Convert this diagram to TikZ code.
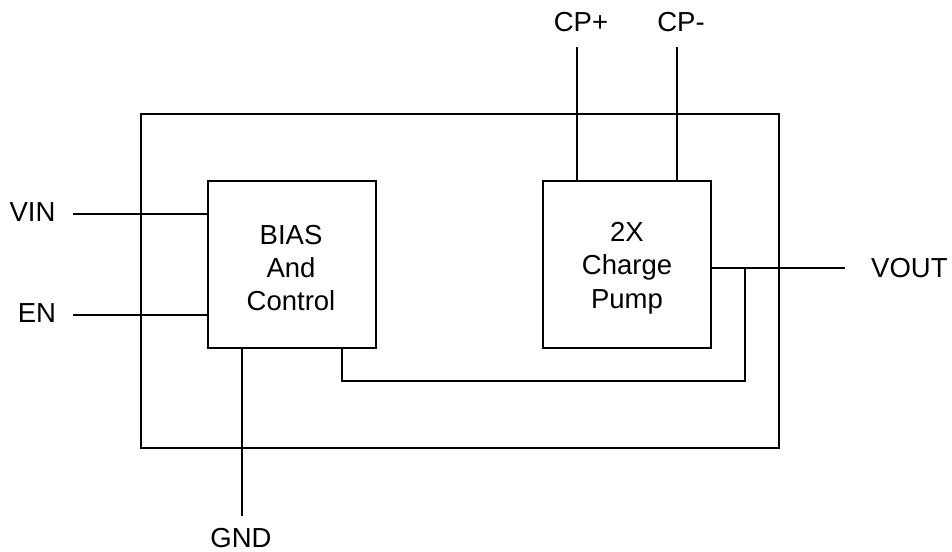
\documentclass[tikz,border=0pt]{standalone}
\usepackage{fontspec}
\setmainfont{Liberation Sans}
\usetikzlibrary{calc}
\begin{document}
\begin{tikzpicture}[x=1pt,y=-1pt,
  chipbox/.style={draw, line width=2.2pt, minimum width=638pt, minimum height=334pt, inner sep=0pt},
  blockbox/.style={draw, line width=1.6pt, minimum width=168pt, minimum height=167pt, inner sep=0pt},
  blocktext/.style={align=center, inner sep=0pt, font=\fontsize{27.5}{33.3}\selectfont},
  pinlabel/.style={inner sep=0pt, font=\fontsize{27.5}{33}\selectfont},
  wire/.style={line width=1.4pt}]
\useasboundingbox (0,0) rectangle (952,551);
\node[chipbox] (chip) at (460,281) {};
\node[blockbox] (bias) at (292,264.5) {};
\node[blocktext] (biast) at (291,268) {BIAS\\And\\Control};
\node[blockbox] (cp) at (627,264.5) {};
\node[blocktext] (cpt) at (627,268) {2X\\Charge\\Pump};
% pins
\coordinate (vinL) at (73,214);
\coordinate (enL) at (73,315);
\coordinate (gndB) at (242,516);
\coordinate (cppT) at (577,47);
\coordinate (cpmT) at (677,47);
\coordinate (voutR) at (845,268);
\coordinate (fbA) at (342,381);
\coordinate (fbB) at (745,381);
\node[pinlabel] (vin) at (32.5,212.5) {VIN};
\node[pinlabel] (en) at (37,313.5) {EN};
\node[pinlabel] (gnd) at (241,538.5) {GND};
\node[pinlabel] (cpp) at (581,22.5) {CP+};
\node[pinlabel] (cpm) at (681,22.5) {CP-};
\node[pinlabel, anchor=west] (vout) at (871,268) {VOUT};
\draw[wire] (vinL) -- (vinL -| bias.west);
\draw[wire] (enL) -- (enL -| bias.west);
\draw[wire] (gndB |- bias.south) -- (gndB);
\draw[wire] (cppT) -- (cppT |- cp.north);
\draw[wire] (cpmT) -- (cpmT |- cp.north);
\draw[wire] (voutR -| cp.east) -- (voutR);
\draw[wire] (fbA |- bias.south) -- (fbA) -- (fbB) -- (fbB |- voutR);
\end{tikzpicture}
\end{document}
